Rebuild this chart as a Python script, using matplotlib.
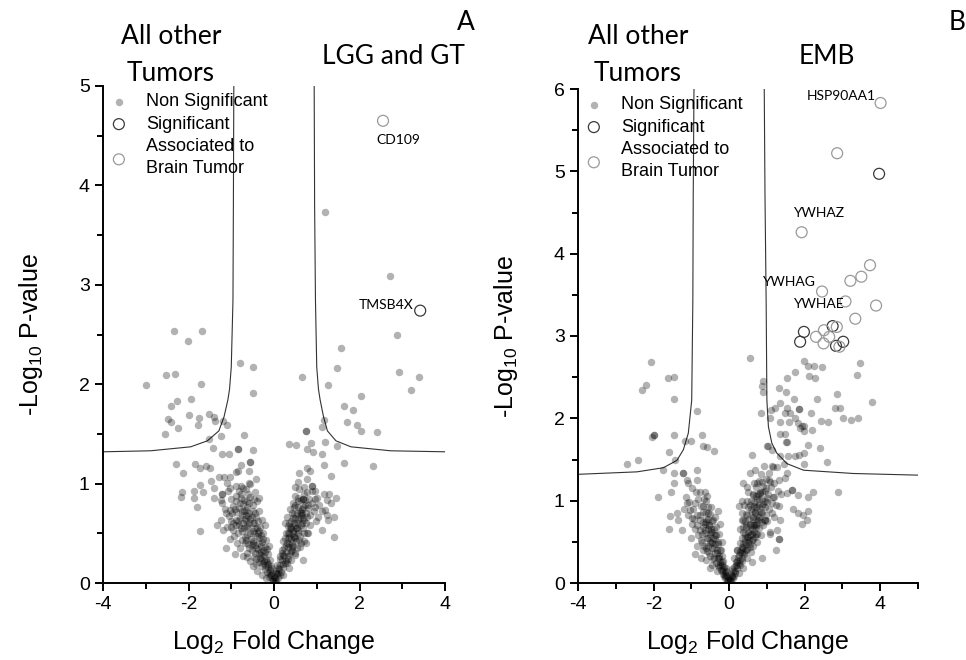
import matplotlib
matplotlib.use("Agg")
import matplotlib.pyplot as plt
import numpy as np

plt.rcParams['font.family'] = ['Liberation Sans', 'DejaVu Sans']
plt.rcParams['mathtext.default'] = 'regular'
plt.rcParams['axes.unicode_minus'] = False

# ---------------- panel A : LGG and GT ----------------
# non significant genes, scattered part
a_ns_spread = [
    (-2.34, 2.54), (-1.69, 2.54), (-2.01, 2.43), (-3.0, 1.99), (-2.52, 2.09), (-2.31, 2.10),
    (-1.70, 2.0), (-2.26, 1.83), (-1.95, 1.85), (-2.41, 1.78), (-2.49, 1.65), (-2.40, 1.62),
    (-2.24, 1.56), (-1.98, 1.69), (-1.76, 1.66), (-1.78, 1.59), (-2.54, 1.50), (-1.51, 1.70),
    (-1.41, 1.67), (-1.39, 1.63), (-1.20, 1.63), (-1.11, 1.59), (-1.25, 1.48), (-1.52, 1.45),
    (-1.43, 1.36), (-0.80, 2.21), (-0.50, 2.17), (-0.49, 1.91), (-0.70, 1.49), (-0.84, 1.35),
    (-0.84, 1.35), (-0.50, 1.34), (-1.21, 1.30), (-1.05, 1.30), (-2.30, 1.20), (-1.85, 1.20),
    (-2.13, 1.11), (-1.73, 1.16), (-1.59, 1.18), (-1.50, 1.16), (-2.16, 0.92), (-2.17, 0.87),
    (-1.88, 0.93), (-1.88, 0.86), (-1.73, 0.99), (-1.66, 0.92), (-1.79, 0.76), (-1.72, 0.52),
    (-1.48, 1.03), (-1.41, 0.96), (-1.28, 1.07), (-1.16, 1.07), (-1.04, 1.07), (-1.22, 0.90),
    (-1.22, 0.90), (-1.11, 1.01), (-1.02, 0.96), (-0.88, 1.12), (-0.78, 1.19), (-0.57, 1.22),
    (-0.57, 1.22), (-0.84, 1.13), (-0.59, 1.13), (-0.41, 1.05), (-0.78, 0.98), (-0.58, 1.01),
    (-1.41, 0.86), (-1.25, 0.83), (-1.25, 0.63), (-1.34, 0.58), (-1.19, 0.53), (-1.12, 0.35),
    (-1.03, 0.73), (-0.91, 0.74), (-1.0, 0.56), (-0.92, 0.29), (-0.66, 0.68), (-0.34, 0.86),
    (1.20, 3.73), (2.72, 3.09), (2.87, 2.49), (2.92, 2.12), (3.39, 2.07), (3.20, 1.94),
    (1.57, 2.36), (1.47, 2.16), (0.66, 2.07), (1.27, 1.99), (2.03, 1.88), (1.64, 1.78),
    (1.84, 1.74), (1.70, 1.62), (1.95, 1.59), (2.04, 1.53), (2.41, 1.52), (1.16, 1.64),
    (1.13, 1.57), (0.76, 1.53), (0.76, 1.53), (1.20, 1.42), (1.48, 1.38), (0.35, 1.40),
    (0.52, 1.39), (0.86, 1.41), (0.78, 1.35), (0.92, 1.32), (1.12, 1.30), (1.18, 1.19),
    (1.64, 1.21), (2.32, 1.18), (1.33, 1.08), (0.77, 1.16), (0.84, 1.13), (0.59, 1.11),
    (0.78, 1.05), (0.57, 1.02), (0.48, 0.97), (0.70, 0.97), (0.90, 0.98), (0.90, 0.98),
    (0.95, 0.93), (1.0, 0.86), (1.17, 0.90), (1.29, 0.90), (1.44, 0.86), (1.25, 0.84),
    (1.33, 0.80), (1.20, 0.73), (1.25, 0.68), (1.41, 0.66), (1.27, 0.63), (1.13, 0.53),
    (1.41, 0.46), (0.67, 0.85), (0.67, 0.85), (0.63, 0.70), (0.79, 0.75), (0.95, 0.76),
    (1.02, 0.66), (0.47, 0.76), (0.70, 0.63), (0.55, 0.53), (0.78, 0.50), (0.39, 0.56),
    (0.47, 0.46), (0.68, 0.23),
]
# non significant genes, dense "V" part
a_ns_core = [
    (-0.03, 0.04), (-0.06, 0.08), (-0.11, 0.06), (-0.09, 0.13), (-0.16, 0.11), (-0.21, 0.14),
    (-0.13, 0.19), (-0.27, 0.17), (-0.19, 0.23), (-0.34, 0.21), (-0.24, 0.27), (-0.41, 0.19),
    (-0.15, 0.29), (-0.31, 0.31), (-0.47, 0.26), (-0.56, 0.22), (-0.38, 0.34), (-0.22, 0.36),
    (-0.63, 0.3), (-0.52, 0.33), (-0.44, 0.38), (-0.72, 0.27), (-0.29, 0.41), (-0.61, 0.39),
    (-0.79, 0.35), (-0.36, 0.45), (-0.54, 0.44), (-0.68, 0.46), (-0.87, 0.4), (-0.19, 0.43),
    (-0.46, 0.5), (-0.25, 0.5), (-0.74, 0.52), (-0.93, 0.47), (-0.6, 0.55), (-1.02, 0.44),
    (-0.33, 0.56), (-0.82, 0.58), (-0.5, 0.6), (-0.66, 0.62), (-0.96, 0.6), (-0.27, 0.63),
    (-1.1, 0.56), (-0.42, 0.66), (-0.74, 0.68), (-0.58, 0.7), (-0.88, 0.71), (-1.05, 0.67),
    (-0.35, 0.72), (-0.64, 0.76), (-0.49, 0.78), (-0.95, 0.77), (-0.8, 0.8), (-1.15, 0.74),
    (-0.4, 0.82), (-0.7, 0.84), (-0.56, 0.87), (-0.88, 0.88), (-1.0, 0.85), (-0.45, 0.92),
    (-0.65, 0.95), (-0.78, 0.9), (-1.22, 0.8), (-0.9, 0.98), (-0.55, 1.0), (-0.72, 0.6),
    (-0.85, 0.5), (-0.4, 0.55), (-0.62, 0.48), (-0.3, 0.48), (-0.5, 0.72), (-0.8, 0.65),
    (-0.68, 0.4), (-0.44, 0.3), (-0.33, 0.25), (-0.58, 0.35), (-0.97, 0.53), (-0.52, 0.66),
    (-0.37, 0.62), (-0.22, 0.58), (-0.2, 0.31), (-0.1, 0.23), (-0.07, 0.17), (-0.28, 0.08),
    (-0.4, 0.12), (-0.18, 0.05), (-0.5, 0.17), (-0.12, 0.37), (-0.76, 0.43), (-0.9, 0.63),
    (0.03, 0.05), (0.07, 0.09), (0.1, 0.05), (0.12, 0.14), (0.17, 0.11), (0.08, 0.18),
    (0.21, 0.19), (0.15, 0.24), (0.27, 0.22), (0.19, 0.3), (0.33, 0.27), (0.24, 0.35),
    (0.39, 0.32), (0.3, 0.4), (0.45, 0.37), (0.22, 0.42), (0.36, 0.46), (0.52, 0.42),
    (0.28, 0.5), (0.44, 0.52), (0.6, 0.47), (0.33, 0.57), (0.5, 0.58), (0.68, 0.55),
    (0.4, 0.62), (0.57, 0.64), (0.75, 0.6), (0.31, 0.66), (0.47, 0.69), (0.65, 0.7),
    (0.85, 0.68), (0.38, 0.74), (0.55, 0.76), (0.72, 0.78), (0.93, 0.72), (0.45, 0.8),
    (0.62, 0.83), (0.82, 0.85), (0.5, 0.88), (0.7, 0.9), (1.05, 0.78), (0.58, 0.95),
    (0.9, 0.93), (0.35, 0.6), (0.26, 0.45), (0.55, 0.5), (0.42, 0.4), (0.6, 0.36),
    (0.18, 0.33), (0.3, 0.2), (0.48, 0.28), (0.7, 0.42), (0.8, 0.5), (0.62, 0.58),
    (0.77, 0.66), (0.98, 0.62), (1.12, 0.72), (0.5, 0.3), (0.13, 0.27), (0.36, 0.15),
    (0.05, 0.12), (0.22, 0.08), (0.4, 0.23), (0.58, 0.43), (0.67, 0.65), (0.85, 0.58),
    (0.45, 0.65), (0.53, 0.7), (0.4, 0.54), (0.32, 0.36), (0.25, 0.6),
    (-0.02, 0.02), (0.02, 0.02), (-0.05, 0.03), (0.05, 0.03), (0.0, 0.06), (-0.04, 0.1),
    (0.04, 0.1), (-0.08, 0.15), (0.09, 0.15), (-0.12, 0.1), (0.13, 0.08), (-0.14, 0.16),
    (0.15, 0.18), (-0.17, 0.21), (0.18, 0.23), (-0.23, 0.22), (0.24, 0.27), (-0.26, 0.33),
    (0.28, 0.31), (-0.3, 0.37), (0.35, 0.39), (-0.35, 0.4), (0.4, 0.44), (-0.4, 0.47),
    (0.46, 0.47), (-0.45, 0.55), (0.52, 0.55), (-0.5, 0.52), (0.57, 0.6), (-0.55, 0.64),
    (0.62, 0.68), (-0.6, 0.67), (0.67, 0.76), (-0.66, 0.73), (0.72, 0.83), (-0.72, 0.79),
    (0.78, 0.92), (-0.77, 0.86), (-0.83, 0.93), (-0.62, 0.82), (-0.7, 0.55), (-0.58, 0.6),
    (-0.48, 0.42), (-0.38, 0.5), (-0.3, 0.28), (-0.25, 0.2), (0.32, 0.5), (0.38, 0.55),
    (0.5, 0.65), (0.55, 0.82), (0.6, 0.72), (0.66, 0.6), (-0.9, 0.82), (-1.08, 0.93),
    (-0.98, 0.7), (-0.85, 0.62), (0.47, 0.6), (0.42, 0.33), (0.33, 0.45), (-0.44, 0.7),
    (-0.1, 0.08), (-0.2, 0.18), (-0.3, 0.24), (-0.36, 0.3), (-0.42, 0.35), (-0.5, 0.4),
    (-0.55, 0.5), (-0.62, 0.57), (-0.68, 0.64), (-0.75, 0.72), (-0.82, 0.75), (-0.58, 0.8),
    (-0.46, 0.6), (-0.34, 0.52), (-0.26, 0.44), (-0.16, 0.34), (-0.65, 0.43), (-0.78, 0.55),
    (-0.9, 0.58), (-1.0, 0.62), (-1.12, 0.7), (-0.7, 0.72), (-0.47, 0.85), (-0.6, 0.9),
    (-0.72, 0.96), (-0.52, 0.38), (-0.62, 0.26), (-0.43, 0.24),
    (0.1, 0.1), (0.2, 0.15), (0.26, 0.2), (0.32, 0.24), (0.37, 0.3), (0.43, 0.36),
    (0.48, 0.45), (0.54, 0.55), (0.6, 0.65), (0.66, 0.74), (0.74, 0.7), (0.8, 0.78),
    (0.7, 0.5), (0.64, 0.4), (0.53, 0.35), (0.45, 0.5), (0.36, 0.5), (0.42, 0.7),
    (0.5, 0.78), (0.57, 0.86), (0.88, 0.8), (0.95, 0.85), (0.75, 0.4), (0.27, 0.38),
    (0.2, 0.28),
]
a_sig = [(3.42, 2.74)]
a_brain = [(2.55, 4.65)]
a_genes = ["CD109", "TMSB4X"]
a_gene_pos = [(2.91, 4.46), (2.62, 2.80)]

a_curve_left_x = [-0.94, -0.95, -0.96, -1.0, -1.04, -1.08, -1.17, -1.29, -1.56, -1.95, -2.89, -4.0]
a_curve_left_y = [5.0, 3.8, 2.84, 2.17, 1.95, 1.84, 1.67, 1.53, 1.43, 1.37, 1.33, 1.32]
a_curve_right_x = [0.94, 0.95, 0.97, 1.0, 1.04, 1.08, 1.16, 1.25, 1.45, 1.8, 2.73, 4.0]
a_curve_right_y = [5.0, 3.8, 2.84, 2.17, 1.95, 1.84, 1.67, 1.53, 1.43, 1.37, 1.33, 1.32]

# ---------------- panel B : EMB ----------------
b_ns_spread = [
    (-2.06, 2.69), (-2.30, 2.35), (-2.20, 2.40), (-1.63, 2.49), (-1.45, 2.50), (-1.46, 2.24),
    (-0.85, 2.09), (-2.05, 1.77), (-1.98, 1.80), (-1.98, 1.80), (-1.46, 1.80), (-2.71, 1.45),
    (-2.40, 1.49), (-1.60, 1.59), (-1.16, 1.72), (-1.01, 1.72), (-0.71, 1.80), (-0.59, 1.65),
    (-0.70, 1.66), (-0.39, 1.60), (-1.44, 1.49), (-1.74, 1.37), (-1.45, 1.33), (-1.47, 1.21),
    (-1.55, 1.10), (-1.21, 1.33), (-1.21, 1.33), (-1.12, 1.25), (-1.08, 1.21), (-0.86, 1.37),
    (-0.86, 1.25), (-0.99, 1.15), (-0.77, 1.11), (-0.63, 1.10), (-1.87, 1.04), (-1.56, 0.81),
    (-1.60, 0.65), (-1.38, 0.85), (-1.34, 0.77), (-1.25, 0.64), (-1.12, 0.97), (-1.03, 0.89),
    (-0.97, 0.79), (-0.90, 0.97), (-0.77, 0.64),
    (0.54, 2.73), (0.91, 2.45), (0.86, 2.39), (0.91, 2.32), (0.84, 2.06), (1.08, 2.0),
    (1.10, 2.10), (1.22, 2.12), (1.33, 2.37), (1.50, 2.32), (1.53, 2.49), (1.75, 2.56),
    (1.35, 2.19), (1.53, 2.12), (1.48, 2.07), (1.58, 1.95), (1.35, 1.96), (1.60, 2.06),
    (1.73, 2.24), (1.84, 2.11), (1.86, 2.11), (1.74, 2.0), (1.97, 2.70), (2.10, 2.63),
    (2.24, 2.64), (2.45, 2.62), (2.11, 2.52), (2.28, 2.49), (2.33, 2.24), (2.18, 2.07),
    (2.43, 1.97), (2.62, 1.96), (2.86, 2.30), (2.79, 2.13), (2.94, 2.13), (3.01, 2.01),
    (3.23, 1.98), (3.42, 2.01), (3.38, 2.53), (3.47, 2.67), (3.77, 2.20), (1.97, 1.91),
    (1.94, 1.91), (1.88, 1.88), (1.83, 1.94), (1.98, 1.85), (2.19, 1.86), (2.10, 1.68),
    (2.41, 1.64), (2.60, 1.47), (1.97, 1.58), (1.86, 1.56), (1.75, 1.54), (1.57, 1.54),
    (1.97, 1.45), (1.48, 1.81), (1.35, 1.81), (1.51, 1.71), (1.52, 1.71), (1.01, 1.67),
    (1.02, 1.67), (1.14, 1.61), (1.26, 1.41), (1.15, 1.41), (1.44, 1.45), (1.35, 1.54),
    (1.53, 1.33), (0.60, 1.56), (0.69, 1.37), (0.54, 1.33), (0.38, 1.21), (0.47, 1.17),
    (0.73, 1.21), (0.86, 1.23), (1.08, 1.23), (1.31, 1.25), (1.48, 1.27), (1.66, 1.13),
    (1.66, 1.13), (1.53, 1.09), (1.38, 1.08), (1.17, 1.05), (1.00, 1.03), (0.64, 1.07),
    (0.82, 1.09), (1.83, 1.07), (2.23, 1.10), (2.10, 1.05), (2.89, 1.10), (2.08, 0.87),
    (1.83, 0.85), (1.95, 0.82), (1.68, 0.90), (2.05, 0.77), (1.94, 0.72), (1.31, 0.93),
    (1.35, 0.77), (1.26, 0.64), (1.33, 0.53), (1.33, 0.53), (1.24, 0.40), (0.95, 0.77),
    (0.95, 0.77), (1.13, 0.85), (1.08, 0.60), (0.86, 0.30), (0.73, 0.60), (0.56, 0.44),
    (0.47, 0.56), (0.34, 0.77), (0.25, 0.93), (0.34, 0.99), (0.20, 0.40),
]
b_ns_core = [
    (-0.03, 0.04), (-0.07, 0.08), (-0.12, 0.06), (-0.1, 0.13), (-0.17, 0.11), (-0.22, 0.16),
    (-0.14, 0.2), (-0.28, 0.2), (-0.2, 0.26), (-0.35, 0.24), (-0.26, 0.3), (-0.42, 0.29),
    (-0.18, 0.33), (-0.33, 0.36), (-0.5, 0.33), (-0.24, 0.4), (-0.4, 0.42), (-0.58, 0.39),
    (-0.3, 0.47), (-0.47, 0.48), (-0.66, 0.45), (-0.2, 0.5), (-0.37, 0.54), (-0.55, 0.55),
    (-0.74, 0.52), (-0.28, 0.6), (-0.45, 0.62), (-0.63, 0.61), (-0.82, 0.58), (-0.35, 0.68),
    (-0.52, 0.7), (-0.7, 0.68), (-0.9, 0.66), (-0.42, 0.76), (-0.6, 0.78), (-0.78, 0.76),
    (-0.98, 0.72), (-0.5, 0.84), (-0.68, 0.86), (-0.86, 0.83), (-0.56, 0.92), (-0.75, 0.94),
    (-0.95, 0.9), (-0.62, 1.0), (-0.82, 1.02), (-1.05, 0.98), (-0.7, 0.4), (-0.85, 0.45),
    (-0.45, 0.22), (-0.6, 0.28), (-0.32, 0.15), (-0.55, 0.45), (-0.4, 0.3), (-0.72, 0.6),
    (-1.1, 0.82), (-1.2, 0.9), (-0.15, 0.27), (-0.08, 0.18), (-0.48, 0.65), (-0.65, 0.72),
    (-0.38, 0.8), (-1.0, 0.55), (-0.9, 0.35), (-0.25, 0.72), (-0.3, 0.88), (-0.58, 1.06),
    (-0.88, 1.1), (-1.15, 1.05), (-0.5, 0.18), (-0.75, 0.3),
    (0.03, 0.04), (0.07, 0.09), (0.11, 0.06), (0.1, 0.14), (0.16, 0.12), (0.14, 0.2),
    (0.21, 0.18), (0.19, 0.26), (0.27, 0.24), (0.24, 0.32), (0.33, 0.3), (0.29, 0.38),
    (0.4, 0.35), (0.2, 0.4), (0.35, 0.44), (0.47, 0.41), (0.28, 0.48), (0.42, 0.5),
    (0.55, 0.47), (0.33, 0.55), (0.5, 0.56), (0.64, 0.53), (0.38, 0.62), (0.56, 0.63),
    (0.72, 0.6), (0.3, 0.66), (0.45, 0.7), (0.63, 0.7), (0.8, 0.67), (0.37, 0.76),
    (0.52, 0.78), (0.7, 0.78), (0.88, 0.74), (0.44, 0.84), (0.6, 0.86), (0.78, 0.86),
    (0.97, 0.82), (0.5, 0.92), (0.67, 0.94), (0.86, 0.93), (1.05, 0.9), (0.57, 1.0),
    (0.75, 1.02), (0.94, 1.0), (1.13, 0.97), (0.63, 1.08), (0.82, 1.1), (1.02, 1.08),
    (1.2, 1.05), (0.7, 1.16), (0.9, 1.18), (1.1, 1.16), (0.78, 1.24), (0.98, 1.26),
    (1.18, 1.22), (0.85, 1.32), (1.06, 1.34), (0.92, 1.42), (1.14, 1.42), (0.55, 0.72),
    (0.62, 0.45), (0.48, 0.3), (0.36, 0.18), (0.25, 0.12), (0.75, 0.5), (0.85, 0.58),
    (0.68, 0.85), (0.58, 0.38), (0.42, 0.6), (0.9, 0.7), (1.0, 0.75), (1.25, 0.95),
    (1.3, 1.12), (0.5, 1.1), (0.65, 1.22), (0.4, 0.95), (0.35, 0.85), (0.47, 1.0),
    (0.12, 0.3), (0.8, 0.95), (0.72, 0.68), (1.08, 0.62), (1.2, 0.8), (0.95, 1.12),
    (0.6, 0.25), (0.3, 0.22),
    (-0.02, 0.02), (0.02, 0.02), (-0.05, 0.03), (0.05, 0.03), (0.0, 0.06), (-0.05, 0.1),
    (0.05, 0.11), (-0.09, 0.15), (0.08, 0.17), (-0.13, 0.09), (0.13, 0.09), (-0.15, 0.17),
    (0.17, 0.22), (-0.19, 0.22), (0.22, 0.27), (-0.24, 0.26), (0.26, 0.34), (-0.28, 0.33),
    (0.31, 0.4), (-0.32, 0.4), (0.37, 0.47), (-0.37, 0.47), (0.43, 0.55), (-0.42, 0.55),
    (0.5, 0.62), (-0.47, 0.62), (0.56, 0.7), (-0.52, 0.7), (0.62, 0.78), (-0.57, 0.78),
    (0.68, 0.86), (-0.62, 0.86), (0.74, 0.94), (-0.68, 0.94), (0.8, 1.02), (0.86, 1.1),
    (-0.45, 0.5), (-0.5, 0.58), (-0.55, 0.66), (-0.6, 0.74), (-0.4, 0.66), (-0.35, 0.58),
    (0.45, 0.68), (0.52, 0.52), (0.6, 0.6), (0.66, 0.7), (0.72, 0.72), (0.78, 0.8),
    (0.84, 0.86), (0.9, 0.96), (0.58, 0.9), (0.65, 0.98), (0.7, 1.06), (-0.3, 0.22),
    (0.35, 0.27), (-0.22, 0.4), (0.4, 0.38),
    (-0.1, 0.1), (-0.18, 0.14), (-0.25, 0.22), (-0.3, 0.3), (-0.38, 0.36), (-0.44, 0.42),
    (-0.5, 0.5), (-0.58, 0.55), (-0.64, 0.64), (-0.7, 0.74), (-0.76, 0.82), (-0.55, 0.85),
    (-0.45, 0.75), (-0.38, 0.58), (-0.3, 0.5), (-0.62, 0.42), (-0.72, 0.5), (-0.85, 0.7),
    (-0.92, 0.78), (-0.48, 0.92), (-0.66, 1.02), (-0.53, 0.36),
    (0.08, 0.08), (0.15, 0.15), (0.22, 0.22), (0.28, 0.28), (0.33, 0.36), (0.38, 0.42),
    (0.45, 0.46), (0.5, 0.5), (0.55, 0.58), (0.6, 0.66), (0.65, 0.62), (0.7, 0.7),
    (0.76, 0.76), (0.82, 0.78), (0.88, 0.85), (0.94, 0.92), (1.0, 0.98), (0.62, 0.8),
    (0.7, 0.92), (0.76, 1.08), (0.88, 1.02), (0.98, 1.15), (0.55, 0.95), (0.48, 0.82),
    (0.42, 0.75), (0.38, 0.68), (1.05, 1.25), (0.6, 0.52), (0.68, 0.56), (0.44, 0.4),
]
b_sig = [(3.97, 4.97), (1.98, 3.05), (1.88, 2.93), (2.74, 3.12), (2.83, 2.88), (3.02, 2.93)]
b_brain = [(4.01, 5.83), (2.86, 5.22), (1.92, 4.26), (3.73, 3.86), (3.50, 3.72), (3.21, 3.67),
           (2.46, 3.54), (3.08, 3.42), (3.89, 3.37), (3.34, 3.21), (2.30, 2.99), (2.51, 3.07),
           (2.50, 2.91), (2.65, 2.99), (2.85, 3.11), (2.92, 2.87)]
b_genes = ["HSP90AA1", "YWHAZ", "YWHAG", "YWHAE"]
b_gene_pos = [(2.98, 5.91), (2.36, 4.49), (1.57, 3.65), (2.36, 3.39)]

b_curve_left_x = [-0.93, -0.95, -0.96, -0.99, -1.08, -1.21, -1.38, -1.74, -2.44, -4.0]
b_curve_left_y = [6.0, 4.7, 3.44, 2.22, 1.82, 1.62, 1.49, 1.40, 1.35, 1.32]
b_curve_right_x = [0.93, 0.95, 0.98, 1.0, 1.04, 1.13, 1.26, 1.53, 1.97, 3.29, 5.0]
b_curve_right_y = [6.0, 4.7, 3.44, 2.22, 1.90, 1.70, 1.58, 1.45, 1.37, 1.33, 1.31]

title_font = ['Lato', 'DejaVu Sans']
W, H = 966, 660
fig = plt.figure(figsize=(W / 100, H / 100), dpi=100)


def volcano(rect, spread, core, sig, brain, genes, gene_pos, cl, cr, xlim, ylim, xminor):
    ax = fig.add_axes(rect)
    pts = np.array(spread + core)
    ns = ax.scatter(pts[:, 0], pts[:, 1], s=29, color='k', alpha=0.3, linewidths=0,
                    label='Non Significant', zorder=2)
    sg = np.array(sig)
    s1 = ax.scatter(sg[:, 0], sg[:, 1], s=62, facecolors='none', edgecolors='#3a3a3a',
                    linewidths=0.9, label='Significant', zorder=3)
    br = np.array(brain)
    s2 = ax.scatter(br[:, 0], br[:, 1], s=62, facecolors='none', edgecolors='#9a9a9a',
                    linewidths=0.9, label='Associated to\nBrain Tumor', zorder=3)
    ax.plot(cl[0], cl[1], color='#333333', lw=0.8, zorder=1)
    ax.plot(cr[0], cr[1], color='#333333', lw=0.8, zorder=1)
    for g, (gx, gy) in zip(genes, gene_pos):
        ax.text(gx, gy, g, ha='center', va='center', fontsize=10, family=title_font)
    ax.set_xlim(*xlim)
    ax.set_ylim(*ylim)
    ax.set_xticks(np.arange(-4, xlim[1] + 0.1, 2))
    ax.set_xticks(xminor, minor=True)
    ax.set_yticks(np.arange(0, ylim[1] + 0.1, 1))
    ax.set_yticks(np.arange(0.5, ylim[1], 1), minor=True)
    for s in ['top', 'right']:
        ax.spines[s].set_visible(False)
    for s in ['left', 'bottom']:
        ax.spines[s].set_linewidth(1.4)
    ax.tick_params(which='major', direction='out', length=6, width=1.4, labelsize=14)
    ax.tick_params(which='minor', direction='out', length=4, width=1.4)
    ax.set_xlabel('Log$_2$ Fold Change', fontsize=18, labelpad=11)
    ax.set_ylabel('-Log$_{10}$ P-value', fontsize=18, labelpad=24)
    leg = ax.legend(handles=[ns, s1, s2], loc='upper left', bbox_to_anchor=(0.02, 0.985),
                    frameon=False, fontsize=13, borderpad=0, borderaxespad=0, handlelength=1.0,
                    handletextpad=1.0, labelspacing=0.3, scatterpoints=1)
    leg.get_texts()[2].set_linespacing(1.35)
    return ax


volcano([103 / W, 1 - 583 / H, 342 / W, 497 / H], a_ns_spread, a_ns_core, a_sig, a_brain,
        a_genes, a_gene_pos, (a_curve_left_x, a_curve_left_y), (a_curve_right_x, a_curve_right_y),
        (-4, 4), (0, 5), [-3, -1, 1, 3])
volcano([578 / W, 1 - 583 / H, 340 / W, 494 / H], b_ns_spread, b_ns_core, b_sig, b_brain,
        b_genes, b_gene_pos, (b_curve_left_x, b_curve_left_y), (b_curve_right_x, b_curve_right_y),
        (-4, 5), (0, 6), [-3, -1, 1, 3, 5])


def ftext(x, y, s, **kw):
    fig.text(x / W, 1 - y / H, s, ha='center', va='center', fontsize=19, family=title_font, **kw)


ftext(171, 55, 'All other\nTumors', linespacing=1.6)
ftext(393, 57, 'LGG and GT')
ftext(466, 23, 'A')
ftext(638, 55, 'All other\nTumors', linespacing=1.6)
ftext(827, 57, 'EMB')
ftext(957, 23, 'B')

fig.savefig('out.png', dpi=100)
